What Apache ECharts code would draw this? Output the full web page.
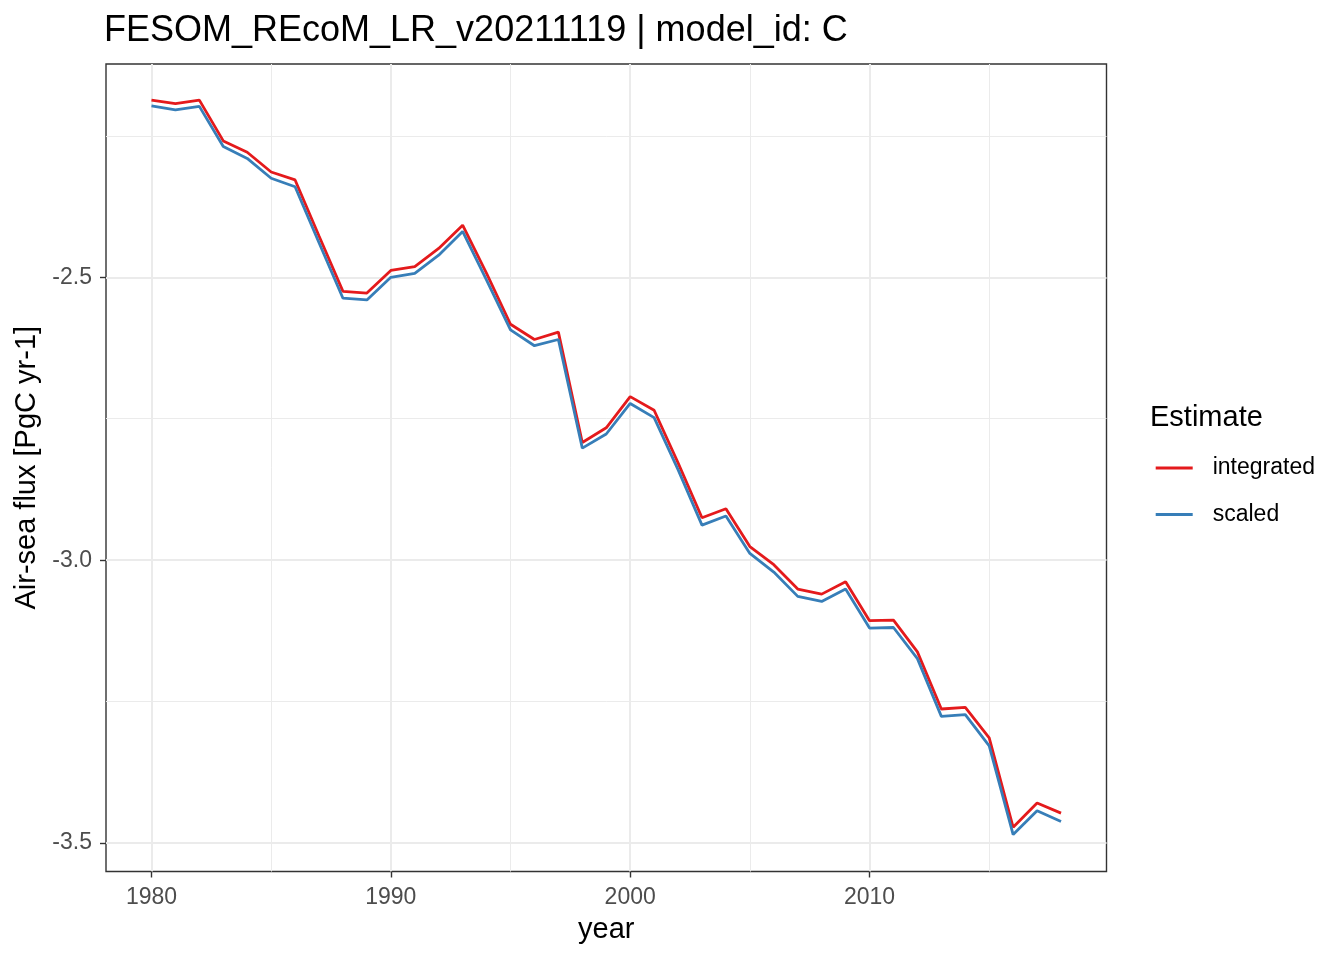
<!DOCTYPE html>
<html>
<head>
<meta charset="utf-8">
<script src="https://cdn.jsdelivr.net/npm/echarts@6/dist/echarts.min.js"></script>
<style>
  html, body { margin: 0; padding: 0; background: #fff; }
  #chart { width: 1344px; height: 960px; }
</style>
</head>
<body>
<div id="chart"></div>
<script>
var years = [1980, 1981, 1982, 1983, 1984, 1985, 1986, 1987, 1988, 1989,
             1990, 1991, 1992, 1993, 1994, 1995, 1996, 1997, 1998, 1999,
             2000, 2001, 2002, 2003, 2004, 2005, 2006, 2007, 2008, 2009,
             2010, 2011, 2012, 2013, 2014, 2015, 2016, 2017, 2018];

var integrated = [-2.187, -2.193, -2.187, -2.259, -2.279, -2.314, -2.328, -2.427, -2.525, -2.528,
                  -2.488, -2.481, -2.449, -2.408, -2.493, -2.583, -2.610, -2.597, -2.792, -2.766,
                  -2.711, -2.735, -2.828, -2.925, -2.909, -2.976, -3.008, -3.051, -3.060, -3.038,
                  -3.107, -3.106, -3.162, -3.263, -3.260, -3.314, -3.472, -3.429, -3.447];

var scaled = [-2.197, -2.204, -2.198, -2.269, -2.290, -2.325, -2.340, -2.439, -2.537, -2.540,
              -2.500, -2.493, -2.461, -2.419, -2.505, -2.593, -2.621, -2.610, -2.802, -2.777,
              -2.723, -2.748, -2.840, -2.938, -2.922, -2.988, -3.021, -3.064, -3.073, -3.051,
              -3.120, -3.119, -3.174, -3.276, -3.273, -3.328, -3.485, -3.443, -3.462];

var xMajor = [1980, 1990, 2000, 2010];
var xMinor = [1985, 1995, 2005, 2015];
var yMajor = [-3.5, -3.0, -2.5];
var yMinor = [-3.25, -2.75, -2.25];

var font = 'Liberation Sans, Arial, sans-serif';

function pairs(xs, ys) {
	var out = [];
	for (var i = 0; i < xs.length; i++) out.push([xs[i], ys[i]]);
	return out;
}

var chart = echarts.init(document.getElementById('chart'));
chart.setOption({
	animation: false,
	backgroundColor: '#fff',
	textStyle: { fontFamily: font },
	title: [
		{
			text: 'FESOM_REcoM_LR_v20211119 | model_id: C',
			left: 104, top: 13, padding: 0,
			textStyle: { fontSize: 36, fontWeight: 'normal', color: '#000', fontFamily: font }
		},
		{
			text: 'Estimate',
			left: 1150, top: 403, padding: 0,
			textStyle: { fontSize: 29, fontWeight: 'normal', color: '#000', fontFamily: font }
		}
	],
	legend: {
		orient: 'vertical',
		left: 1155.7, top: 456, padding: 0,
		icon: 'rect',
		itemWidth: 37, itemHeight: 3,
		itemGap: 22.6,
		textStyle: { fontSize: 23, color: '#000', fontFamily: font, lineHeight: 24, padding: [0, 0, 0, 15] },
		data: ['integrated', 'scaled']
	},
	grid: {
		left: 106, right: 237.5, top: 64, bottom: 88.5,
		show: true, borderColor: '#333', borderWidth: 1.4, backgroundColor: 'transparent'
	},
	xAxis: [
		{
			type: 'value', min: 1978.1, max: 2019.9,
			name: 'year', nameLocation: 'middle', nameGap: 44,
			nameTextStyle: { fontSize: 29, color: '#000', fontFamily: font },
			axisLine: { show: false },
			axisTick: { show: true, length: 6, lineStyle: { color: '#333', width: 1.4 }, customValues: xMajor },
			axisLabel: {
				fontSize: 23, color: '#4D4D4D', margin: 15, customValues: xMajor,
				formatter: function (v) { return String(v); }
			},
			splitLine: { show: true, lineStyle: { color: '#EBEBEB', width: 2 } }
		},
		{
			type: 'value', min: 1978.1, max: 2019.9, position: 'bottom',
			axisLine: { show: false },
			axisTick: { show: false, customValues: xMinor },
			axisLabel: { show: false, customValues: xMinor },
			splitLine: { show: true, lineStyle: { color: '#EBEBEB', width: 1 } }
		}
	],
	yAxis: [
		{
			type: 'value', min: -3.5502, max: -2.1231,
			name: 'Air-sea flux [PgC yr-1]', nameLocation: 'middle', nameGap: 58,
			nameTextStyle: { fontSize: 29, color: '#000', fontFamily: font },
			axisLine: { show: false },
			axisTick: { show: true, length: 6, lineStyle: { color: '#333', width: 1.4 }, customValues: yMajor },
			axisLabel: {
				fontSize: 23, color: '#4D4D4D', margin: 14, customValues: yMajor,
				formatter: function (v) { return v.toFixed(1); }
			},
			splitLine: { show: true, lineStyle: { color: '#EBEBEB', width: 2 } }
		},
		{
			type: 'value', min: -3.5502, max: -2.1231, position: 'left',
			axisLine: { show: false },
			axisTick: { show: false, customValues: yMinor },
			axisLabel: { show: false, customValues: yMinor },
			splitLine: { show: true, lineStyle: { color: '#EBEBEB', width: 1 } }
		}
	],
	series: [
		{
			name: 'integrated', type: 'line', xAxisIndex: 0, yAxisIndex: 0,
			showSymbol: false, color: '#E41A1C',
			lineStyle: { width: 2.8, color: '#E41A1C' },
			data: pairs(years, integrated)
		},
		{
			name: 'scaled', type: 'line', xAxisIndex: 0, yAxisIndex: 0,
			showSymbol: false, color: '#377EB8',
			lineStyle: { width: 2.8, color: '#377EB8' },
			data: pairs(years, scaled)
		}
	]
});
</script>
</body>
</html>
